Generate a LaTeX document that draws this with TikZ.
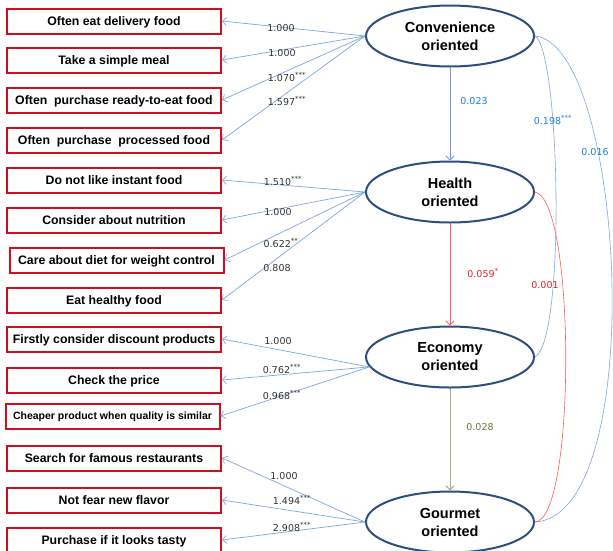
\documentclass[tikz,border=0pt]{standalone}
\usepackage{fontspec}
\setmainfont{Liberation Sans}
\newfontfamily\numfont{DejaVu Sans}
\usetikzlibrary{arrows.meta,shapes.geometric,shadows}
\definecolor{lineblue}{HTML}{80A8DC}
\definecolor{boxred}{HTML}{CC1020}
\definecolor{ellblue}{HTML}{2E4E7E}
\definecolor{lblblue}{HTML}{1F7FD6}
\definecolor{redline}{HTML}{FF5A5A}
\definecolor{lblred}{HTML}{E02424}
\definecolor{greenline}{HTML}{A3AB90}
\definecolor{lblgreen}{HTML}{6B7D35}
\newcommand{\sig}[1]{\textsuperscript{\scriptsize #1}}
\tikzset{
  itembox/.style={draw=boxred, line width=2pt, fill=white, minimum width=214pt, minimum height=25pt, inner sep=0pt,
    text depth=0pt, font=\bfseries\fontsize{12.3}{13}\selectfont, drop shadow={shadow xshift=1pt, shadow yshift=-1.2pt, opacity=0.25}},
  factor/.style={ellipse, draw=ellblue, line width=2pt, fill=white, minimum width=168pt, minimum height=61pt, inner sep=0pt,
    align=center, font=\bfseries\fontsize{14.5}{18}\selectfont},
  load/.style={draw=lineblue, line width=0.7pt, -{Straight Barb[length=4pt,width=8pt]}},
  numlbl/.style={font=\numfont\fontsize{9.5}{11}\selectfont, text=black!80, inner sep=0pt},
  path/.style={line width=0.8pt, -{Straight Barb[length=4pt,width=8pt]}},
  corr/.style={line width=0.6pt}
}
\begin{document}
\begin{tikzpicture}[x=1pt,y=-1pt]
\clip (0,0) rectangle (613,550);
\fill[white] (0,0) rectangle (613,550);

% factors
\node[factor] (conv) at (450,36) {Convenience\\oriented};
\node[factor] (hlth) at (450,192) {Health\\oriented};
\node[factor] (econ) at (450,357) {Economy\\oriented};
\node[factor] (gour) at (450,522) {Gourmet\\oriented};

% item boxes
\node[itembox] (b1) at (114,21) {Often eat delivery food};
\node[itembox] (b2) at (114,60) {Take a simple meal};
\node[itembox] (b3) at (114,100) {Often\ \ purchase ready-to-eat food};
\node[itembox] (b4) at (114,140) {Often\ \ purchase\ \ processed food};
\node[itembox] (b5) at (114,180) {Do not like instant food};
\node[itembox] (b6) at (114,220) {Consider about nutrition};
\node[itembox] (b7) at (116.5,260) {Care about diet for weight control};
\node[itembox] (b8) at (114,300) {Eat healthy food};
\node[itembox] (b9) at (114,339) {Firstly consider discount products};
\node[itembox] (b10) at (114,380) {Check the price};
\node[itembox, font=\bfseries\fontsize{10.5}{11}\selectfont] (b11) at (112.5,416) {Cheaper product when quality is similar};
\node[itembox] (b12) at (114,458) {Search for famous restaurants};
\node[itembox] (b13) at (114,500) {Not fear new flavor};
\node[itembox] (b14) at (114,540) {Purchase if it looks tasty};

% loadings
\foreach \b in {b1,b2,b3,b4} \draw[load] (conv.west) -- (\b.east);
\foreach \b in {b5,b6,b7,b8} \draw[load] (hlth.west) -- (\b.east);
\foreach \b in {b9,b10,b11} \draw[load] (econ.187) -- (\b.east);
\foreach \b in {b12,b13,b14} \draw[load] (gour.west) -- (\b.east);

\node[numlbl] (l1) at (281,28) {1.000};
\node[numlbl] (l2) at (282,53) {1.000};
\node[numlbl] (l3) at (287,77) {1.070\sig{***}};
\node[numlbl] (l4) at (287,101) {1.597\sig{***}};
\node[numlbl] (l5) at (283,181) {1.510\sig{***}};
\node[numlbl] (l6) at (278,212) {1.000};
\node[numlbl] (l7) at (281,243) {0.622\sig{**}};
\node[numlbl] (l8) at (277,268) {0.808};
\node[numlbl] (l9) at (278,341) {1.000};
\node[numlbl] (l10) at (282,369) {0.762\sig{***}};
\node[numlbl] (l11) at (282,395) {0.968\sig{***}};
\node[numlbl] (l12) at (284,476) {1.000};
\node[numlbl] (l13) at (292,500) {1.494\sig{***}};
\node[numlbl] (l14) at (292,527) {2.908\sig{***}};

% structural paths
\draw[path, draw=lineblue!90!blue] (conv.south) -- (hlth.north);
\draw[path, draw=redline] (hlth.south) -- (econ.north);
\draw[path, draw=greenline, line width=1pt] (econ.south) -- (gour.north);
\node[numlbl, text=lblblue] (p1) at (474,101) {0.023};
\node[numlbl, text=lblred] (p2) at (483,273) {0.059\sig{*}};
\node[numlbl, text=lblgreen] (p3) at (480,427) {0.028};

% correlations
\draw[corr, draw=lineblue] (conv.east) .. controls (560,50) and (566,340) .. (econ.east);
\draw[corr, draw=lineblue] (conv.east) .. controls (625,45) and (650,515) .. (gour.east);
\draw[corr, draw=redline] (hlth.east) .. controls (576,200) and (576,520) .. (gour.east);
\node[numlbl, text=lblblue] (c1) at (553,120) {0.198\sig{***}};
\node[numlbl, text=lblblue] (c2) at (595,152) {0.016};
\node[numlbl, text=lblred] (c3) at (545,285) {0.001};
\end{tikzpicture}
\end{document}
